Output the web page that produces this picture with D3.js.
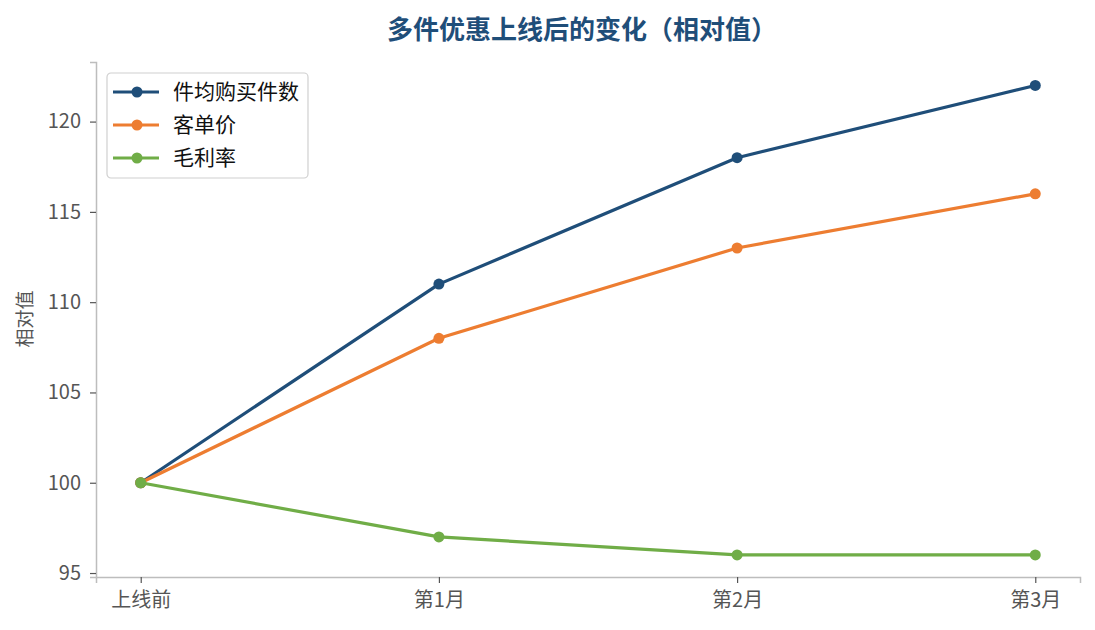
<!DOCTYPE html>
<html>
<head>
<meta charset="utf-8">
<script src="https://cdn.jsdelivr.net/npm/d3@7"></script>
<style>
  body { margin: 0; background: #fff; }
  svg { display: block; font-family: "Noto Sans CJK SC", "Noto Sans", sans-serif; }
</style>
</head>
<body>
<svg width="1095" height="630"></svg>
<script>
'use strict'

const categories = ['上线前', '第1月', '第2月', '第3月'];
const seriesNames = ['件均购买件数', '客单价', '毛利率'];
const itemsPerOrder = [100, 111, 118, 122];
const avgOrderValue = [100, 108, 113, 116];
const grossMargin = [100, 97, 96, 96];
const yTicks = [95, 100, 105, 110, 115, 120];
const colors = ['#1f4e79', '#ed7d31', '#70ad47'];

const series = [itemsPerOrder, avgOrderValue, grossMargin].map((values, i) => ({
  name: seriesNames[i],
  color: colors[i],
  values: values
}));

const svg = d3.select('svg');
const plotLeft = 96, plotRight = 1080, plotTop = 62, plotBottom = 577;

// x with matplotlib-like 5% margins
const x = d3.scaleLinear()
  .domain([-0.15, categories.length - 1 + 0.15])
  .range([plotLeft, plotRight]);

const y = d3.scaleLinear()
  .domain([94.78, 123.3])
  .range([plotBottom, plotTop]);

// Title
svg.append('text')
  .attr('x', 582)
  .attr('y', 39)
  .attr('text-anchor', 'middle')
  .style('font-size', '26px')
  .style('font-weight', 'bold')
  .style('fill', '#1f4e79')
  .text('多件优惠上线后的变化（相对值）');

// Axes
const xAxis = svg.append('g')
  .attr('transform', `translate(0,${plotBottom})`)
  .call(d3.axisBottom(x)
    .tickValues(d3.range(categories.length))
    .tickFormat(i => categories[i])
    .tickSize(6)
    .tickPadding(10));

const yAxis = svg.append('g')
  .attr('transform', `translate(${plotLeft},0)`)
  .call(d3.axisLeft(y)
    .tickValues(yTicks)
    .tickSize(6)
    .tickPadding(9));

[xAxis, yAxis].forEach(g => {
  g.select('.domain').attr('stroke', '#bdbdbd').attr('stroke-width', 1.5);
  g.selectAll('.tick line').attr('stroke', '#555').attr('stroke-width', 1.2);
  g.selectAll('.tick text')
    .style('font-size', '20px')
    .style('fill', '#555')
    .style('font-family', '"Noto Sans CJK SC", "Noto Sans", sans-serif');
});

// Y label
svg.append('text')
  .attr('transform', `translate(25,319) rotate(-90)`)
  .attr('text-anchor', 'middle')
  .attr('dy', '0.35em')
  .style('font-size', '19px')
  .style('fill', '#555')
  .text('相对值');

// Lines
const line = d3.line()
  .x((d, i) => x(i))
  .y(d => y(d));

const groups = svg.append('g')
  .selectAll('g')
  .data(series)
  .join('g');

groups.append('path')
  .attr('d', d => line(d.values))
  .attr('fill', 'none')
  .attr('stroke', d => d.color)
  .attr('stroke-width', 3.2)
  .attr('stroke-linejoin', 'round');

groups.selectAll('circle')
  .data(d => d.values.map(v => ({ v: v, color: d.color })))
  .join('circle')
  .attr('cx', (d, i) => x(i))
  .attr('cy', d => y(d.v))
  .attr('r', 5.5)
  .attr('fill', d => d.color);

// Legend
const legend = svg.append('g').attr('transform', 'translate(107,73)');
legend.append('rect')
  .attr('width', 201)
  .attr('height', 105)
  .attr('rx', 4)
  .attr('fill', '#fff')
  .attr('fill-opacity', 0.8)
  .attr('stroke', '#d0d0d0')
  .attr('stroke-width', 1.2);

const items = legend.selectAll('.item')
  .data(series)
  .join('g')
  .attr('class', 'item')
  .attr('transform', (d, i) => `translate(0,${19 + i * 33})`);

items.append('line')
  .attr('x1', 6).attr('x2', 52)
  .attr('stroke', d => d.color)
  .attr('stroke-width', 3.2);

items.append('circle')
  .attr('cx', 30)
  .attr('r', 5.5)
  .attr('fill', d => d.color);

items.append('text')
  .attr('x', 66)
  .attr('dy', '0.35em')
  .style('font-size', '21px')
  .style('fill', '#111')
  .text(d => d.name);
</script>
</body>
</html>
